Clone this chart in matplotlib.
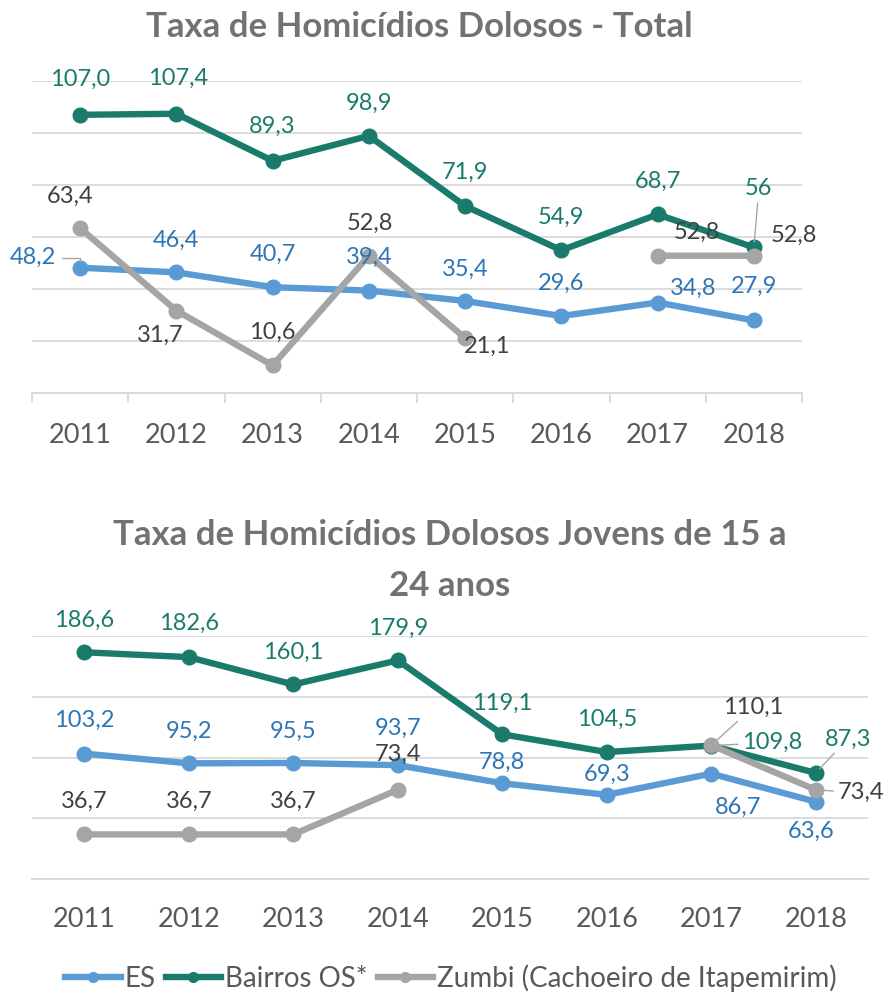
import numpy as np
import matplotlib
matplotlib.use("Agg")
import matplotlib.pyplot as plt
from matplotlib.lines import Line2D

plt.rcParams['font.family'] = ['Lato', 'DejaVu Sans']

# ---------------- data ----------------
years = ['2011', '2012', '2013', '2014', '2015', '2016', '2017', '2018']
series_names = ['ES', 'Bairros OS*', 'Zumbi (Cachoeiro de Itapemirim)']

total_es = [48.2, 46.4, 40.7, 39.4, 35.4, 29.6, 34.8, 27.9]
total_bairros = [107.0, 107.4, 89.3, 98.9, 71.9, 54.9, 68.7, 56]
total_zumbi = [63.4, 31.7, 10.6, 52.8, 21.1, None, 52.8, 52.8]

jovens_es = [103.2, 95.2, 95.5, 93.7, 78.8, 69.3, 86.7, 63.6]
jovens_bairros = [186.6, 182.6, 160.1, 179.9, 119.1, 104.5, 109.8, 87.3]
jovens_zumbi = [36.7, 36.7, 36.7, 73.4, None, None, 110.1, 73.4]

title_total = 'Taxa de Homicídios Dolosos - Total'
title_jovens = ['Taxa de Homicídios Dolosos Jovens de 15 a', '24 anos']

# ---------------- styles ----------------
line_colors = ['#5B9BD5', '#1A7B6C', '#A5A5A5']
label_colors = ['#2E75B6', '#1A7B6C', '#404040']
grid_color = '#D9D9D9'
title_color = '#767171'
tick_color = '#595959'

# label offsets in pixels (dx, dy), y up
off_total = [
    [(-47, 10), (0, 32), (0, 33), (0, 33), (0, 32), (0, 33), (36, 14), (0, 34)],
    [(0, 35), (2, 35), (0, 34), (0, 33), (0, 34), (0, 33), (0, 33), (5, 59)],
    [(-10, 32), (-16, -25), (0, 33), (1, 32), (22, -8), None, (39, 23), (40, 20)],
]
lead_total = {(0, 0): 'angle', (1, 7): 'straight'}
off_jovens = [
    [(0, 33), (0, 32), (0, 32), (0, 37), (0, 21), (0, 20), (27, -34), (-5, -30)],
    [(0, 32), (0, 34), (0, 32), (0, 32), (0, 31), (0, 33), (61, 3), (32, 34)],
    [(0, 33), (0, 33), (0, 33), (0, 35), None, None, (42, 38), (45, -3)],
]
lead_jovens = {(1, 6): 'straight', (1, 7): 'straight', (2, 6): 'straight', (2, 7): 'straight'}

W, H = 888, 998
fig = plt.figure(figsize=(W / 100, H / 100), dpi=100)
ax1 = fig.add_axes([32 / W, 1 - 393 / H, 770 / W, 312 / H])
ax2 = fig.add_axes([32 / W, 1 - 879 / H, 836 / W, 243 / H])


def fmt(v):
    if isinstance(v, int):
        return str(v)
    return f'{v:.1f}'.replace('.', ',')


def draw(ax, data, offsets, leaders, ymax, ystep, minor_ticks, pad):
    x = np.arange(len(years))
    for s, vals in enumerate(data):
        y = np.array([np.nan if v is None else v for v in vals], dtype=float)
        ax.plot(x, y, color=line_colors[s], lw=4.6, marker='o', ms=10.5,
                solid_capstyle='round', zorder=3 + s * 0.1, clip_on=False)
    for s, vals in enumerate(data):
        for i, v in enumerate(vals):
            if v is None:
                continue
            kw = {}
            lead = leaders.get((s, i))
            if lead == 'straight':
                kw['arrowprops'] = dict(arrowstyle='-', color='#A6A6A6', lw=1.0,
                                        shrinkA=1, shrinkB=4)
            elif lead == 'angle':
                kw['arrowprops'] = dict(arrowstyle='-', color='#A6A6A6', lw=1.0,
                                        shrinkA=2, shrinkB=5,
                                        connectionstyle='angle,angleA=0,angleB=90,rad=0')
            ax.annotate(fmt(v), xy=(i, v), xytext=offsets[s][i],
                        textcoords='offset pixels', ha='center', va='center',
                        fontsize=17, color=label_colors[s], zorder=6,
                        annotation_clip=False, **kw)
    ax.set_xlim(-0.5, len(years) - 0.5)
    ax.set_ylim(0, ymax)
    ax.set_yticks(np.arange(0, ymax + 1, ystep))
    ax.yaxis.grid(True, color=grid_color, lw=1.3)
    ax.set_axisbelow(True)
    ax.tick_params(axis='y', left=False, labelleft=False)
    ax.set_xticks(x)
    ax.set_xticklabels(years, fontsize=19.5, color=tick_color)
    for sp in ['left', 'right', 'top']:
        ax.spines[sp].set_visible(False)
    ax.spines['bottom'].set_color(grid_color)
    ax.spines['bottom'].set_linewidth(1.3)
    if minor_ticks:
        ax.set_xticks(np.arange(-0.5, len(years), 1.0), minor=True)
        ax.tick_params(axis='x', which='minor', length=7.5, width=1.3,
                       color=grid_color, direction='out')
    ax.tick_params(axis='x', which='major', length=0, pad=pad)


draw(ax1, [total_es, total_bairros, total_zumbi], off_total, lead_total, 120, 20, True, 21.5)
draw(ax2, [jovens_es, jovens_bairros, jovens_zumbi], off_jovens, lead_jovens, 200, 50, False, 20)

fig.text(419 / W, 1 - 27 / H, title_total, ha='center', va='center',
         fontsize=25, fontweight='bold', color=title_color)
fig.text(450 / W, 1 - 535 / H, title_jovens[0], ha='center', va='center',
         fontsize=25, fontweight='bold', color=title_color)
fig.text(450 / W, 1 - 586 / H, title_jovens[1], ha='center', va='center',
         fontsize=25, fontweight='bold', color=title_color)

handles = [Line2D([0], [0], color=c, lw=4.6, marker='o', ms=7) for c in line_colors]
fig.legend(handles, series_names, loc='center', bbox_to_anchor=(451 / W, 1 - 978 / H),
           ncol=3, frameon=False, fontsize=20, handlelength=2.0, handletextpad=0.15,
           columnspacing=0.35, labelcolor=tick_color)

fig.savefig('out.png', dpi=100, facecolor='white')
